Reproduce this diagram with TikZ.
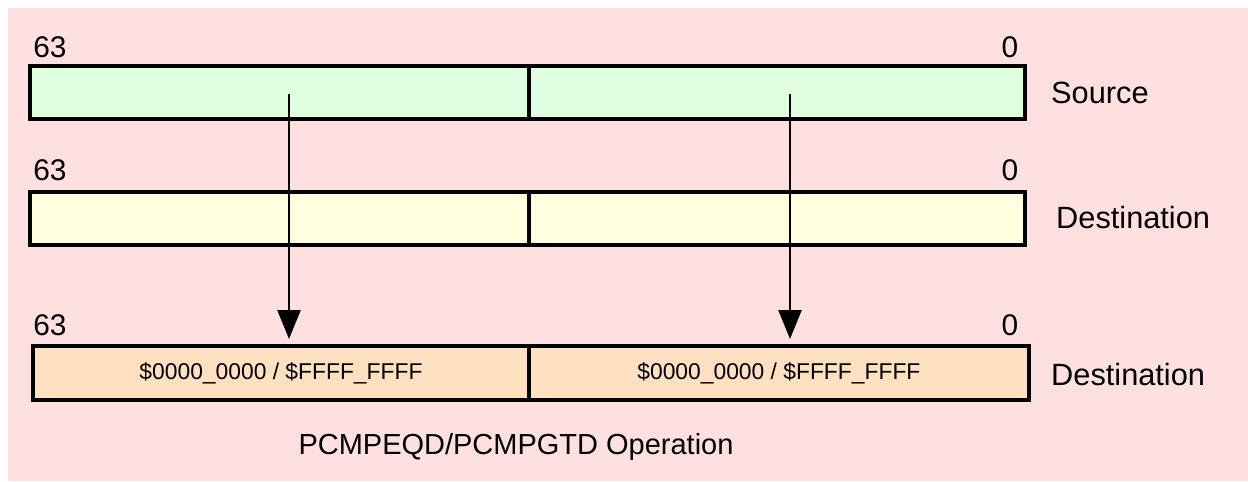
\documentclass[tikz,border=0pt]{standalone}
\usepackage{fontspec}
\setmainfont{Liberation Sans}
\usetikzlibrary{positioning,arrows.meta}
\definecolor{bgpink}{RGB}{255,224,224}
\definecolor{srcgreen}{RGB}{224,255,224}
\definecolor{dstyellow}{RGB}{255,255,224}
\definecolor{respeach}{RGB}{255,224,192}
\tikzset{
	half/.style={draw,line width=2pt,inner sep=0pt,outer sep=0pt,minimum height=1.06cm},
	bitlbl/.style={font=\fontsize{17}{20}\selectfont},
	reglbl/.style={anchor=west,font=\fontsize{17.5}{20}\selectfont},
	flow/.style={line width=1.5pt,-{Triangle[width=0.46cm,length=0.58cm]},shorten >=0.14cm}
}
\begin{document}
\begin{tikzpicture}[x=0.02cm,y=-0.02cm]
		\useasboundingbox (0,0) rectangle (1248,481);
		\fill[bgpink] (8,8) rectangle (1248,481);
		%
		\node[half,fill=srcgreen,minimum width=9.98cm] (srchi) at (279.5,92.5) {};
		\node[half,fill=srcgreen,minimum width=9.92cm,right=0pt of srchi] (srclo) {};
		\node[half,fill=dstyellow,minimum width=9.98cm] (dsthi) at (279.5,218.5) {};
		\node[half,fill=dstyellow,minimum width=9.92cm,right=0pt of dsthi] (dstlo) {};
		\node[half,fill=respeach,minimum width=9.92cm,minimum height=1.08cm,font=\fontsize{13}{15}\selectfont] (reshi) at (281,373) {\$0000\_0000 / \$FFFF\_FFFF};
		\node[half,fill=respeach,minimum width=10cm,minimum height=1.08cm,font=\fontsize{13}{15}\selectfont,right=0pt of reshi] (reslo) {\$0000\_0000 / \$FFFF\_FFFF};
		%
		\node[bitlbl] (msbs) at (50,47) {63};   \node[bitlbl] (lsbs) at (1010,47) {0};
		\node[bitlbl] (msbd) at (50,170) {63};   \node[bitlbl] (lsbd) at (1010,170) {0};
		\node[bitlbl] (msbr) at (50,325) {63};   \node[bitlbl] (lsbr) at (1010,325) {0};
		%
		\node[reglbl] (lsrc) at (1045,93) {Source};
		\node[reglbl] (ldst) at (1050,218) {Destination};
		\node[reglbl] (lres) at (1045,375) {Destination};
		%
		\node[font=\fontsize{16.5}{20}\selectfont] (title) at (516,447) {PCMPEQD/PCMPGTD Operation};
		%
		\coordinate (hi) at (289,94);
		\coordinate (lo) at (790,94);
		\draw[flow] (hi) -- (hi |- reshi.north);
		\draw[flow] (lo) -- (lo |- reslo.north);
		%
\end{tikzpicture}
\end{document}
